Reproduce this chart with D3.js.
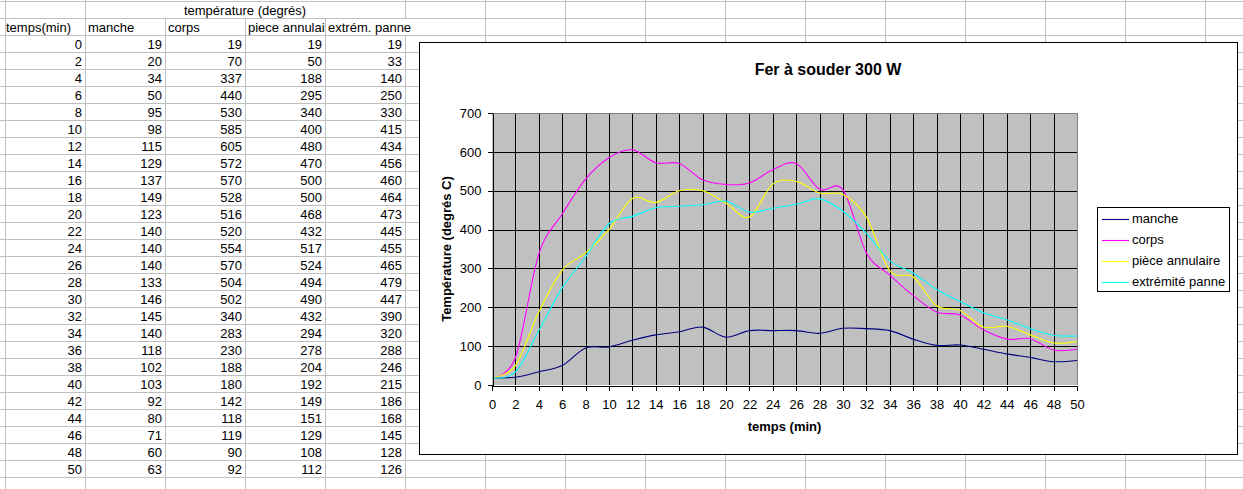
<!DOCTYPE html>
<html>
<head>
<meta charset="utf-8">
<script src="https://cdn.jsdelivr.net/npm/d3@7"></script>
<style>
  html, body { margin: 0; padding: 0; background: #fff; }
  svg { display: block; font-family: Arial, "Liberation Sans", sans-serif; }
</style>
</head>
<body>
<svg id="root" width="1243" height="489"></svg>
<script>
// ---- data ----
const temps = [0, 2, 4, 6, 8, 10, 12, 14, 16, 18, 20, 22, 24, 26, 28, 30, 32, 34, 36, 38, 40, 42, 44, 46, 48, 50];
const manche = [19, 20, 34, 50, 95, 98, 115, 129, 137, 149, 123, 140, 140, 140, 133, 146, 145, 140, 118, 102, 103, 92, 80, 71, 60, 63];
const corps = [19, 70, 337, 440, 530, 585, 605, 572, 570, 528, 516, 520, 554, 570, 504, 502, 340, 283, 230, 188, 180, 142, 118, 119, 90, 92];
const pieceAnnulaire = [19, 50, 188, 295, 340, 400, 480, 470, 500, 500, 468, 432, 517, 524, 494, 490, 432, 294, 278, 204, 192, 149, 151, 129, 108, 112];
const extremitePanne = [19, 33, 140, 250, 330, 415, 434, 456, 460, 464, 473, 445, 455, 465, 479, 447, 390, 320, 288, 246, 215, 186, 168, 145, 128, 126];

const tableHeaders = ["temps(min)", "manche", "corps", "piece annulaire", "extrém. panne"];
const groupHeader = "température (degrés)";
const seriesNames = ["manche", "corps", "pièce annulaire", "extrémité panne"];
const seriesColors = ["#000080", "#FF00FF", "#FFFF00", "#00FFFF"];
const xTicks = [0, 2, 4, 6, 8, 10, 12, 14, 16, 18, 20, 22, 24, 26, 28, 30, 32, 34, 36, 38, 40, 42, 44, 46, 48, 50];
const yTicks = [0, 100, 200, 300, 400, 500, 600, 700];
const chartTitle = "Fer à souder 300 W";
const xTitle = "temps (min)";
const yTitle = "Température (degrés C)";

const seriesValues = [manche, corps, pieceAnnulaire, extremitePanne];

// ---- spreadsheet background ----
const svg = d3.select("#root");
const W = 1243, H = 489;
const rowH = 17, rowTop = 1, colW = 80, colLeft = 5;
const grid = svg.append("g").attr("shape-rendering", "crispEdges");
const rowsY = d3.range(rowTop, H + rowH, rowH);
const colsX = d3.range(colLeft, W + colW, colW);

// horizontal gridlines
grid.selectAll("line.h").data(rowsY).join("line")
  .attr("x1", 0).attr("x2", W)
  .attr("y1", d => d + 0.5).attr("y2", d => d + 0.5)
  .attr("stroke", "#c0c0c0");
// vertical gridlines (merged cell in row 0 over columns B..E, overflow in header row for col E)
colsX.forEach((x, i) => {
  const segs = [];
  if (i >= 2 && i <= 4) {
    segs.push([rowTop + rowH, H]);
  } else if (i === 5) {
    segs.push([0, rowTop + rowH]);
    segs.push([rowTop + 2 * rowH, H]);
  } else segs.push([0, H]);
  segs.forEach(s => grid.append("line")
    .attr("x1", x + 0.5).attr("x2", x + 0.5)
    .attr("y1", s[0]).attr("y2", s[1])
    .attr("stroke", "#c0c0c0"));
});

const cellFont = 13;
const tbl = svg.append("g").attr("font-size", cellFont).attr("fill", "#000");
// group header, centred across B..E
tbl.append("text").attr("x", colLeft + colW + 2 * colW).attr("y", rowTop + 14)
  .attr("text-anchor", "middle").text(groupHeader);
// clip for clipped header
svg.append("defs").append("clipPath").attr("id", "clipD")
  .append("rect").attr("x", colLeft + 3 * colW).attr("y", 0).attr("width", colW).attr("height", H);
tableHeaders.forEach((h, i) => {
  const t = tbl.append("text")
    .attr("x", (i === 0 ? 6 : colLeft + i * colW + 3))
    .attr("y", rowTop + rowH + 14)
    .text(h);
  if (i === 3) t.attr("clip-path", "url(#clipD)");
});
const tableCols = [temps, manche, corps, pieceAnnulaire, extremitePanne];
tableCols.forEach((col, c) => {
  tbl.selectAll(null).data(col).join("text")
    .attr("x", colLeft + (c + 1) * colW - 3)
    .attr("y", (d, r) => rowTop + (r + 2) * rowH + 14)
    .attr("text-anchor", "end")
    .text(d => d);
});

// ---- chart object ----
const chart = svg.append("g");
const box = { x: 419, y: 42, w: 818, h: 412 };
chart.append("rect").attr("x", box.x + 0.5).attr("y", box.y + 0.5)
  .attr("width", box.w).attr("height", box.h)
  .attr("fill", "#fff").attr("stroke", "#000").attr("shape-rendering", "crispEdges");

const plot = { l: 492, t: 113, r: 1077, b: 385 };
const x = d3.scaleLinear().domain([0, 50]).range([plot.l, plot.r]);
const y = d3.scaleLinear().domain([0, 700]).range([plot.b, plot.t]);

chart.append("rect").attr("x", plot.l).attr("y", plot.t)
  .attr("width", plot.r - plot.l).attr("height", plot.b - plot.t)
  .attr("fill", "#c0c0c0");

const gl = chart.append("g").attr("shape-rendering", "crispEdges").attr("stroke", "#000");
gl.selectAll("line.v").data(xTicks.filter(d => d > 0 && d < 50)).join("line")
  .attr("x1", d => Math.round(x(d)) + 0.5).attr("x2", d => Math.round(x(d)) + 0.5)
  .attr("y1", plot.t).attr("y2", plot.b);
gl.selectAll("line.hz").data(yTicks.filter(d => d > 0 && d < 700)).join("line")
  .attr("x1", plot.l).attr("x2", plot.r)
  .attr("y1", d => Math.round(y(d)) + 0.5).attr("y2", d => Math.round(y(d)) + 0.5);

// plot border (gray) top & right
chart.append("path")
  .attr("d", `M${plot.l},${plot.t + 0.5}H${plot.r + 0.5}V${plot.b}`)
  .attr("fill", "none").attr("stroke", "#808080").attr("shape-rendering", "crispEdges");

// series
const line = d3.line().curve(d3.curveCardinal.tension(0))
  .x((d, i) => x(temps[i])).y(d => y(d));
seriesValues.forEach((vals, k) => {
  chart.append("path").datum(vals)
    .attr("d", line).attr("fill", "none")
    .attr("stroke", seriesColors[k]).attr("stroke-width", 1.1);
});

// axes
const axFont = 13;
const yAxis = chart.append("g").attr("transform", `translate(${plot.l + 0.5},0)`)
  .attr("shape-rendering", "crispEdges")
  .call(d3.axisLeft(y).tickValues(yTicks).tickSize(5).tickSizeOuter(0).tickPadding(6));
const xAxis = chart.append("g").attr("transform", `translate(0,${plot.b + 0.5})`)
  .attr("shape-rendering", "crispEdges")
  .call(d3.axisBottom(x).tickValues(xTicks).tickSize(5).tickSizeOuter(0).tickPadding(9));
[yAxis, xAxis].forEach(a => {
  a.selectAll("path,line").attr("stroke", "#000");
  a.selectAll("text").attr("font-size", axFont).attr("fill", "#000")
    .attr("font-family", "Arial, 'Liberation Sans', sans-serif");
});

// titles
chart.append("text").attr("x", box.x + box.w / 2).attr("y", 75)
  .attr("text-anchor", "middle").attr("font-size", 16).attr("font-weight", "bold")
  .text(chartTitle);
chart.append("text").attr("x", (plot.l + plot.r) / 2).attr("y", 431)
  .attr("text-anchor", "middle").attr("font-size", 13).attr("font-weight", "bold")
  .text(xTitle);
chart.append("text")
  .attr("transform", `translate(451,${(plot.t + plot.b) / 2}) rotate(-90)`)
  .attr("text-anchor", "middle").attr("font-size", 13).attr("font-weight", "bold")
  .text(yTitle);

// legend
const lg = { x: 1097, y: 207, w: 132, h: 84 };
const leg = chart.append("g");
leg.append("rect").attr("x", lg.x + 0.5).attr("y", lg.y + 0.5)
  .attr("width", lg.w).attr("height", lg.h)
  .attr("fill", "#fff").attr("stroke", "#000").attr("shape-rendering", "crispEdges");
seriesNames.forEach((name, i) => {
  const ly = 219 + 21 * i;
  leg.append("line").attr("x1", 1102).attr("x2", 1129)
    .attr("y1", ly + 0.5).attr("y2", ly + 0.5)
    .attr("stroke", seriesColors[i]).attr("stroke-width", 1.1);
  leg.append("text").attr("x", 1132).attr("y", ly + 4)
    .attr("font-size", 13).attr("fill", "#000").text(name);
});
</script>
</body>
</html>
